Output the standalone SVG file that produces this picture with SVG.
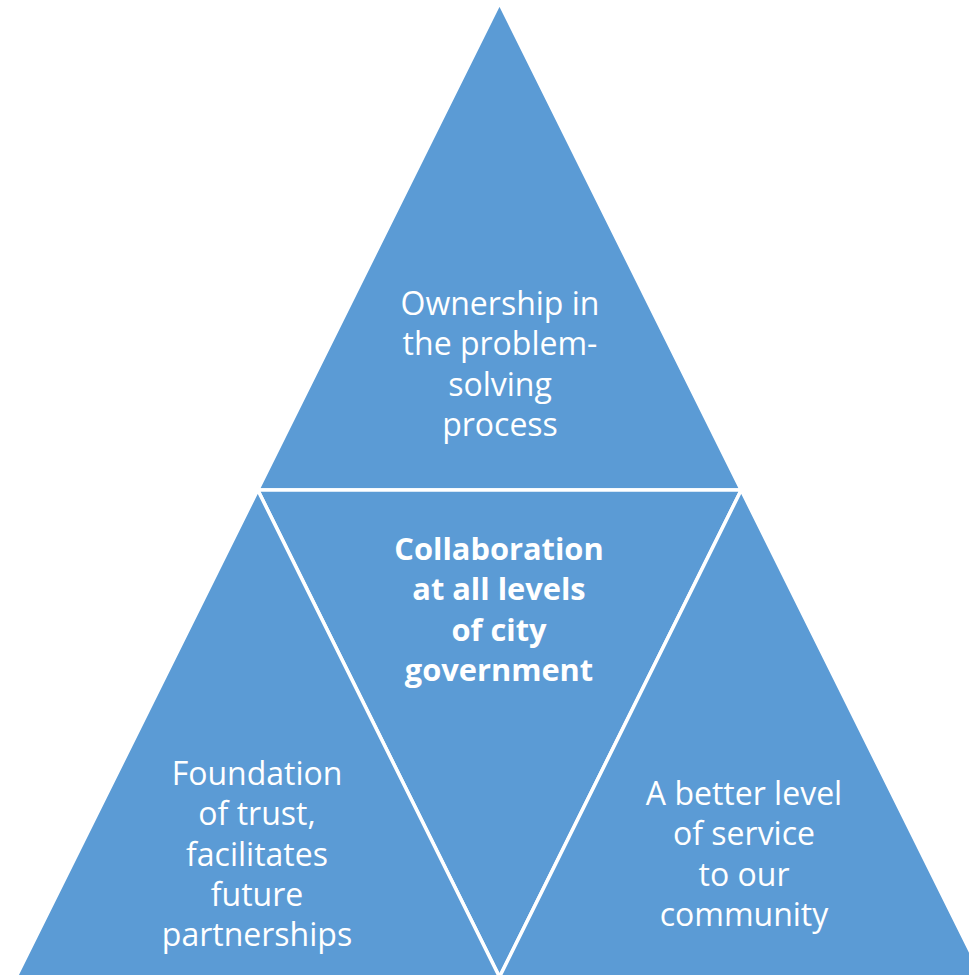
<svg xmlns="http://www.w3.org/2000/svg" width="969" height="975" viewBox="0 0 969 975">
<style>
.tri{fill:#5B9BD5;stroke:#FFFFFF;stroke-width:3.5;stroke-linejoin:miter}
.t{font-family:"Open Sans","Liberation Sans",sans-serif;font-size:32px;fill:#FFFFFF;text-anchor:middle}
.b{font-weight:bold;font-size:30.8px}
</style>
<rect width="969" height="975" fill="#FFFFFF"/>
<g id="top">
<polygon class="tri" points="499.5,3 257.75,490 741.25,490"/>
<text class="t" x="500" y="315">Ownership in</text>
<text class="t" x="500" y="355">the problem-</text>
<text class="t" x="500" y="396">solving</text>
<text class="t" x="500" y="436">process</text>
</g>
<g id="center">
<polygon class="tri" points="257.75,490 741.25,490 499.5,977"/>
<text class="t b" x="499" y="560">Collaboration</text>
<text class="t b" x="499" y="600">at all levels</text>
<text class="t b" x="499" y="641">of city</text>
<text class="t b" x="499" y="681">government</text>
</g>
<g id="left">
<polygon class="tri" points="257.75,490 16,977 499.5,977"/>
<text class="t" x="257" y="785">Foundation</text>
<text class="t" x="257" y="825">of trust,</text>
<text class="t" x="257" y="866">facilitates</text>
<text class="t" x="257" y="906">future</text>
<text class="t" x="257" y="946">partnerships</text>
</g>
<g id="right">
<polygon class="tri" points="741.25,490 499.5,977 983,977"/>
<text class="t" x="744" y="805">A better level</text>
<text class="t" x="744" y="845">of service</text>
<text class="t" x="744" y="886">to our</text>
<text class="t" x="744" y="926">community</text>
</g>
<g id="connectors"/>
</svg>
